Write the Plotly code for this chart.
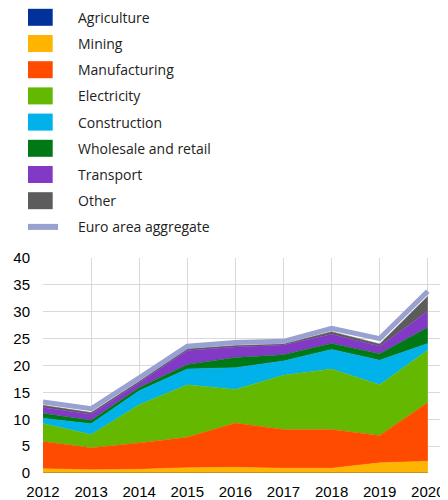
import plotly.graph_objects as go

years = [2012, 2013, 2014, 2015, 2016, 2017, 2018, 2019, 2020]

agriculture = [0.0, 0.0, 0.0, 0.0, 0.0, 0.0, 0.0, 0.0, 0.0]
mining = [0.8, 0.6, 0.7, 1.0, 1.05, 0.9, 0.9, 1.9, 2.2]
manufacturing = [5.05, 4.1, 4.9, 5.65, 8.25, 7.2, 7.2, 5.1, 10.9]
electricity = [3.35, 2.45, 7.1, 9.75, 6.25, 10.1, 11.25, 9.4, 9.8]
construction = [1.0, 2.0, 2.6, 2.95, 4.05, 2.65, 3.65, 4.6, 1.2]
wholesale = [0.9, 0.65, 0.6, 0.85, 1.9, 1.15, 1.1, 1.2, 3.0]
transport = [1.1, 1.15, 0.9, 2.6, 1.95, 1.8, 1.7, 1.4, 3.0]
other = [0.4, 0.3, 0.25, 0.3, 0.25, 0.2, 0.5, 0.4, 2.8]
euro_area = [13.2, 11.95, 17.7, 23.6, 24.3, 24.5, 26.9, 25.0, 33.8]

y_ticks = [0, 5, 10, 15, 20, 25, 30, 35, 40]

sectors = [
    ("Agriculture", agriculture, "#003299"),
    ("Mining", mining, "#FFB400"),
    ("Manufacturing", manufacturing, "#FF4B00"),
    ("Electricity", electricity, "#65B800"),
    ("Construction", construction, "#00B1EA"),
    ("Wholesale and retail", wholesale, "#007816"),
    ("Transport", transport, "#8139C6"),
    ("Other", other, "#5C5C5C"),
]
agg_name, agg_color = "Euro area aggregate", "#98A1D0"

# the page body has an 8px margin, so the figure sits at (8, 8)
OFF = 8
W, H = 448 - OFF, 500 - OFF
L, R, T, B = 43 - OFF, 0, 258 - OFF, 27


def px_x(p):
    # p in window pixels
    return (p - OFF - L) / (W - L - R)


def px_y(p):
    return (H - B - (p - OFF)) / (H - T - B)


fig = go.Figure()
for name, vals, col in sectors:
    fig.add_trace(go.Scatter(
        x=years, y=vals, name=name, stackgroup="one", mode="lines",
        line=dict(width=0.5, color=col), fillcolor=col,
    ))
fig.add_trace(go.Scatter(
    x=years, y=euro_area, name=agg_name, mode="lines",
    line=dict(width=5, color=agg_color),
))

# hand-made legend above the plot
legend_font = dict(family="Open Sans", size=14, color="#222")
shapes, annots = [], []
row_y = 17.3
for name, _, col in sectors:
    shapes.append(dict(type="rect", xref="paper", yref="paper",
                       x0=px_x(28), x1=px_x(52.7), y0=px_y(row_y + 8.5), y1=px_y(row_y - 8.5),
                       fillcolor=col, line=dict(width=0)))
    annots.append(dict(text=name, xref="paper", yref="paper", x=px_x(76), y=px_y(row_y),
                       xanchor="left", yanchor="middle", showarrow=False, font=legend_font))
    row_y += 26.2
shapes.append(dict(type="rect", xref="paper", yref="paper",
                   x0=px_x(28), x1=px_x(58), y0=px_y(row_y + 3), y1=px_y(row_y - 3),
                   fillcolor=agg_color, line=dict(width=0)))
annots.append(dict(text=agg_name, xref="paper", yref="paper", x=px_x(76), y=px_y(row_y),
                   xanchor="left", yanchor="middle", showarrow=False, font=legend_font))

fig.update_layout(
    width=W, height=H,
    margin=dict(l=L, r=R, t=T, b=B),
    paper_bgcolor="white", plot_bgcolor="white",
    showlegend=False,
    shapes=shapes, annotations=annots,
    font=dict(family="Liberation Sans, Arial", size=15, color="#000"),
    xaxis=dict(range=[2012, 2020.42], tickvals=years, showgrid=True,
               gridcolor="#d9d9d9", gridwidth=1, zeroline=False,
               ticks="", ticklabelstandoff=8),
    yaxis=dict(range=[0, 40], tickvals=y_ticks, showgrid=True,
               gridcolor="#d9d9d9", gridwidth=1, zeroline=False,
               ticks="", ticklabelstandoff=12),
)

fig.write_html("out.html")
